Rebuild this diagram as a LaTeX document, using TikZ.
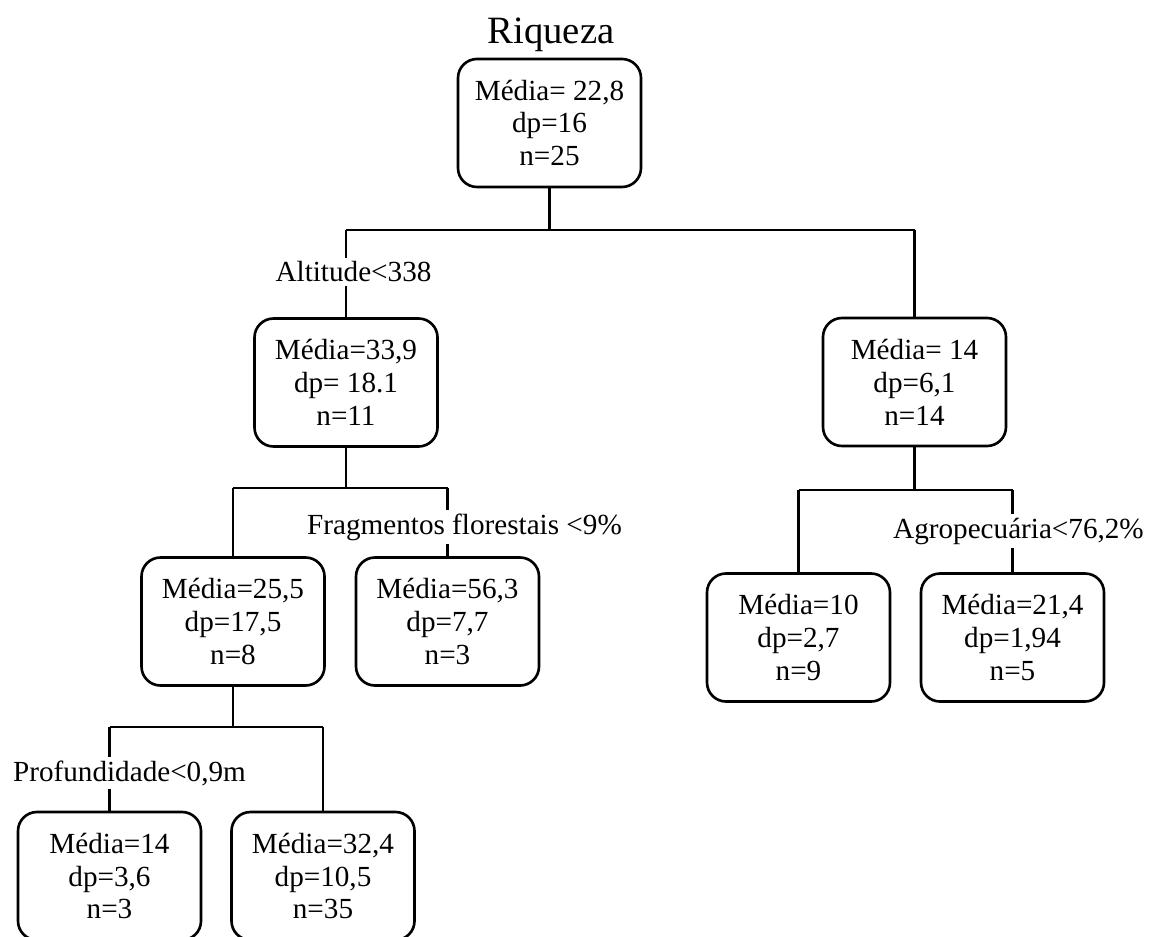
\documentclass[tikz,border=0pt]{standalone}
\usepackage{fontspec}
\setmainfont{Liberation Serif}
\usepackage{tikz}
\tikzstyle{none}=[inner sep=0pt]
\tikzstyle{stat}=[draw=black,line width=1.5pt,rounded corners=0.38cm,minimum width=3.66cm,minimum height=2.56cm,align=center,inner sep=2pt,font=\fontsize{16.6}{18.7}\selectfont]
\tikzstyle{split}=[anchor=base,fill=white,inner sep=2pt,font=\fontsize{16.6}{18.7}\selectfont]
\tikzstyle{simple}=[-,draw=black,line width=1.5pt]

\begin{document}
\begin{tikzpicture}
  \useasboundingbox (0,0) rectangle (22.98,-18.74);
  \node [style=none, font=\fontsize{22}{24}\selectfont] (0) at (11.02, -0.70) {Riqueza};
  \node [style=stat] (1) at (10.99, -2.46) {Média= 22,8\\dp=16\\n=25};
  \node [style=stat] (2) at (6.92, -7.65) {Média=33,9\\dp= 18.1\\n=11};
  \node [style=stat] (3) at (18.29, -7.64) {Média= 14\\dp=6,1\\n=14};
  \node [style=stat] (4) at (4.66, -12.43) {Média=25,5\\dp=17,5\\n=8};
  \node [style=stat] (5) at (8.95, -12.43) {Média=56,3\\dp=7,7\\n=3};
  \node [style=stat] (6) at (15.97, -12.75) {Média=10\\dp=2,7\\n=9};
  \node [style=stat] (7) at (20.25, -12.75) {Média=21,4\\dp=1,94\\n=5};
  \node [style=stat] (8) at (2.19, -17.52) {Média=14\\dp=3,6\\n=3};
  \node [style=stat] (9) at (6.46, -17.52) {Média=32,4\\dp=10,5\\n=35};
  \node [style=none] (10) at (10.99, -4.60) {};
  \node [style=none] (11) at (6.92, -4.60) {};
  \node [style=none] (12) at (18.29, -4.60) {};
  \node [style=none] (13) at (6.92, -9.76) {};
  \node [style=none] (14) at (4.66, -9.76) {};
  \node [style=none] (15) at (8.95, -9.76) {};
  \node [style=none] (16) at (18.29, -9.80) {};
  \node [style=none] (17) at (15.97, -9.80) {};
  \node [style=none] (18) at (20.25, -9.80) {};
  \node [style=none] (19) at (4.66, -14.54) {};
  \node [style=none] (20) at (2.19, -14.54) {};
  \node [style=none] (21) at (6.46, -14.54) {};
  \draw [style=simple] (1.south) to (10.center);
  \draw [style=simple] (11.center) to (12.center);
  \draw [style=simple] (11.center) to (2.north);
  \draw [style=simple] (12.center) to (3.north);
  \draw [style=simple] (2.south) to (13.center);
  \draw [style=simple] (14.center) to (15.center);
  \draw [style=simple] (14.center) to (4.north);
  \draw [style=simple] (15.center) to (5.north);
  \draw [style=simple] (3.south) to (16.center);
  \draw [style=simple] (17.center) to (18.center);
  \draw [style=simple] (17.center) to (6.north);
  \draw [style=simple] (18.center) to (7.north);
  \draw [style=simple] (4.south) to (19.center);
  \draw [style=simple] (20.center) to (21.center);
  \draw [style=simple] (20.center) to (8.north);
  \draw [style=simple] (21.center) to (9.north);
  \node [style=split] (22) at (7.07, -5.64) {Altitude<338};
  \node [style=split] (23) at (9.29, -10.68) {Fragmentos florestais <9\%};
  \node [style=split] (24) at (20.37, -10.76) {Agropecuária<76,2\%};
  \node [style=split] (25) at (2.59, -15.62) {Profundidade<0,9m};
\end{tikzpicture}
\end{document}
